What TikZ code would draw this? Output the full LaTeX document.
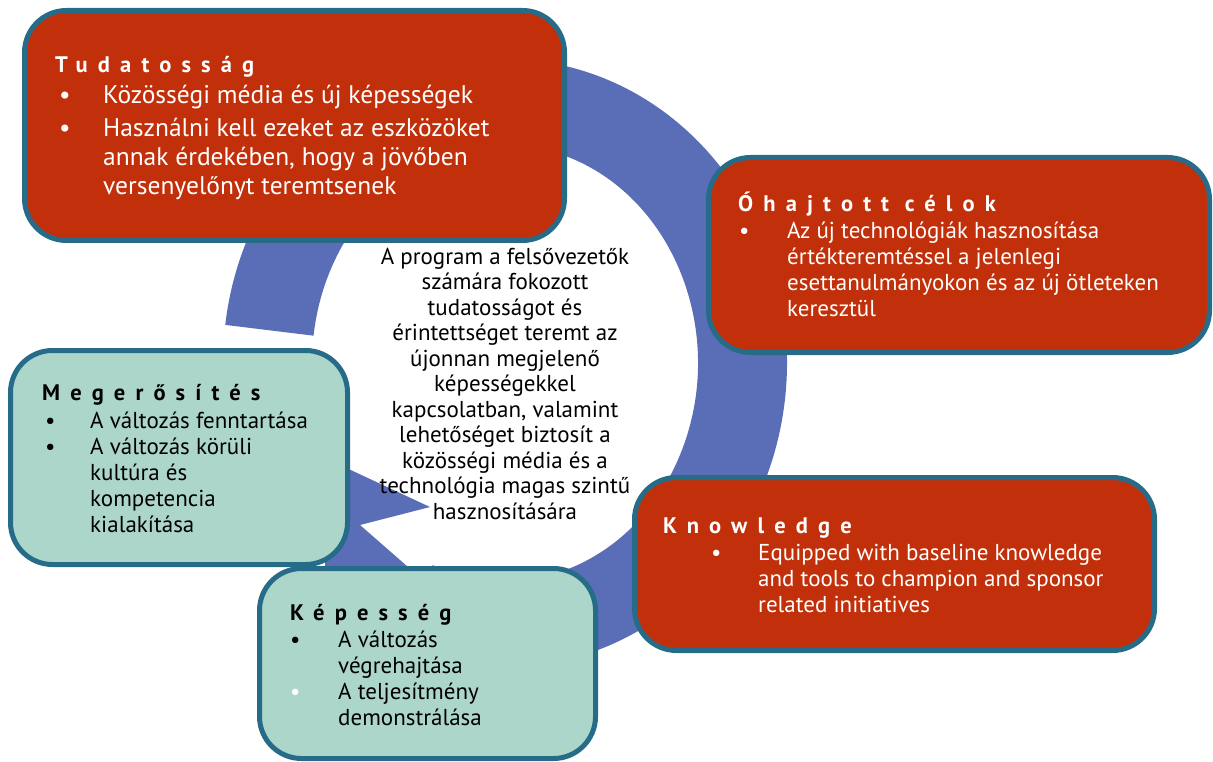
\documentclass[tikz,border=0pt]{standalone}
\usepackage{fontspec}
\setmainfont{PT Sans}
\newfontfamily\titlefont[LetterSpace=45]{PT Sans}
\usetikzlibrary{positioning,calc}

\definecolor{boxred}{HTML}{C1300A}
\definecolor{boxteal}{HTML}{ADD6CB}
\definecolor{rimblue}{HTML}{266C89}
\definecolor{ringblue}{HTML}{5A6DB7}

\tikzset{
  redbox/.style={draw=rimblue, line width=5pt, fill=boxred, rounded corners=42pt, inner sep=0pt},
  tealbox/.style={draw=rimblue, line width=5pt, fill=boxteal, rounded corners=42pt, inner sep=0pt},
  boxtitle/.style={inner sep=0pt, anchor=base west, font=\titlefont\bfseries\fontsize{22.5}{26}\selectfont},
  boxlist/.style={inner sep=0pt, anchor=north west, font=\fontsize{23}{26}\selectfont}
}

\begin{document}
\begin{tikzpicture}[x=1pt,y=-1pt]
  \useasboundingbox (0,0) rectangle (1213,762);

  % the circular arrow behind the boxes
  \coordinate (ctr) at (505,363);
  \fill[ringblue] ([shift={(187.2:282 and 304)}]ctr)
    arc[start angle=187.2, end angle=472, x radius=282, y radius=304]
    -- ([shift={(472:193 and 218)}]ctr)
    arc[start angle=472, end angle=187.2, x radius=193, y radius=218] -- cycle;
  % the arrow head
  \fill[ringblue] (325,458) -- (430,507) -- (360,525) -- (408,567) -- (408,600) -- (325,600) -- cycle;

  % the boxes
  \node[redbox, minimum width=540, minimum height=230] (tud) at (294.5,125.5) {};
  \node[redbox, minimum width=501, minimum height=195] (cel) at (959,255) {};
  \node[redbox, minimum width=520, minimum height=173] (know) at (894.5,564) {};
  \node[tealbox, minimum width=337, minimum height=214] (meg) at (179,457.5) {};
  \node[tealbox, minimum width=336, minimum height=190] (kep) at (427.5,663.5) {};

  % Tudatossag
  \node[boxtitle, text=white] (tudT) at (55,73) {Tudatosság};
  \node[boxlist, text=white, font=\fontsize{25.5}{29}\selectfont] (tudL) at (59,82.7) {%
    \begin{tabular}{@{}p{44pt}@{}l@{}}
      \textbullet & Közösségi média és új képességek\\[4pt]
      \textbullet & Használni kell ezeket az eszközöket\\
      & annak érdekében, hogy a jövőben\\
      & versenyelőnyt teremtsenek
    \end{tabular}};

  % Ohajtott celok
  \node[boxtitle, text=white] (celT) at (738,212) {Óhajtott célok};
  \node[boxlist, text=white] (celL) at (739,219.8) {%
    \begin{tabular}{@{}p{48pt}@{}l@{}}
      \textbullet & Az új technológiák hasznosítása\\
      & értékteremtéssel a jelenlegi\\
      & esettanulmányokon és az új ötleteken\\
      & keresztül
    \end{tabular}};

  % Knowledge
  \node[boxtitle, text=white] (knowT) at (663,533) {Knowledge};
  \node[boxlist, text=white] (knowL) at (711,541.8) {%
    \begin{tabular}{@{}p{47pt}@{}l@{}}
      \textbullet & Equipped with baseline knowledge\\
      & and tools to champion and sponsor\\
      & related initiatives
    \end{tabular}};

  % Megerosites
  \node[boxtitle] (megT) at (42,400) {Megerősítés};
  \node[boxlist] (megL) at (45,409.8) {%
    \begin{tabular}{@{}p{45pt}@{}l@{}}
      \textbullet & A változás fenntartása\\
      \textbullet & A változás körüli\\
      & kultúra és\\
      & kompetencia\\
      & kialakítása
    \end{tabular}};

  % Kepesseg
  \node[boxtitle] (kepT) at (290,620) {Képesség};
  \node[boxlist] (kepL) at (290,628.8) {%
    \begin{tabular}{@{}p{48pt}@{}l@{}}
      \textbullet & A változás\\
      & végrehajtása\\
      \textcolor{white}{\textbullet} & A teljesítmény\\
      & demonstrálása
    \end{tabular}};

  % centre text
  \node[inner sep=0pt, anchor=north, font=\fontsize{23}{25.5}\selectfont] (prog) at (505,246.2) {%
    \begin{tabular}{@{}c@{}}
      A program a felsővezetők\\
      számára fokozott\\
      tudatosságot és\\
      érintettséget teremt az\\
      újonnan megjelenő\\
      képességekkel\\
      kapcsolatban, valamint\\
      lehetőséget biztosít a\\
      közösségi média és a\\
      technológia magas szintű\\
      hasznosítására
    \end{tabular}};
\end{tikzpicture}
\end{document}
